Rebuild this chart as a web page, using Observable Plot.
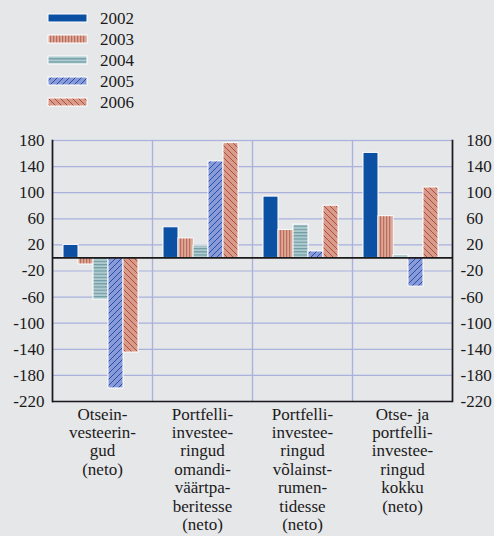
<!DOCTYPE html>
<html>
<head>
<meta charset="utf-8">
<style>
  html, body { margin: 0; padding: 0; background: #e6e7e9; }
  body, body * { font-family: "Liberation Serif", "Times New Roman", Times, serif; }
</style>
<script src="https://cdn.jsdelivr.net/npm/d3@7"></script>
<script src="https://cdn.jsdelivr.net/npm/@observablehq/plot@0.6"></script>
</head>
<body style="width:494px;height:536px;overflow:hidden;color:#1a1a1a">
<svg width="0" height="0" style="position:absolute">
  <defs>
    <pattern id="p2002" patternUnits="userSpaceOnUse" width="4" height="4">
      <rect width="4" height="4" fill="#0b50a2"></rect>
    </pattern>
    <pattern id="p2003" patternUnits="userSpaceOnUse" width="3" height="4">
      <rect width="3" height="4" fill="#dca898"></rect>
      <rect width="1.2" height="4" fill="#bd6b5c"></rect>
    </pattern>
    <pattern id="p2004" patternUnits="userSpaceOnUse" width="4" height="3.2">
      <rect width="4" height="3.2" fill="#b0cbcf"></rect>
      <rect width="4" height="1.2" fill="#6e9ca4"></rect>
    </pattern>
    <pattern id="p2005" patternUnits="userSpaceOnUse" width="6" height="6">
      <rect width="6" height="6" fill="#8a9ad6"></rect>
      <path d="M0,6L6,0M-1,1L1,-1M5,7L7,5" stroke="#1f50b2" stroke-width="1"></path>
    </pattern>
    <pattern id="p2006" patternUnits="userSpaceOnUse" width="6" height="6">
      <rect width="6" height="6" fill="#d89c8b"></rect>
      <path d="M0,0L6,6M-1,5L1,7M5,-1L7,1" stroke="#b34a42" stroke-width="1"></path>
    </pattern>
  </defs>
</svg>
<div id="legend" style="height:120px;box-sizing:border-box;padding-top:7.5px"></div>
<div id="chart"></div>
<script>
const years = ["2002", "2003", "2004", "2005", "2006"];
const categories = [
  "Otsein-\nvesteerin-\ngud\n(neto)",
  "Portfelli-\ninvestee-\nringud\nomandi-\nväärtpa-\nberitesse\n(neto)",
  "Portfelli-\ninvestee-\nringud\nvõlainst-\nrumen-\ntidesse\n(neto)",
  "Otse- ja\nportfelli-\ninvestee-\nringud\nkokku\n(neto)"
];
const v2002 = [20, 47, 94, 161];
const v2003 = [-10, 30, 43, 64];
const v2004 = [-64, 19, 51, 4];
const v2005 = [-200, 148, 10, -44];
const v2006 = [-145, 176, 80, 108];
const yTicks = [180, 140, 100, 60, 20, -20, -60, -100, -140, -180, -220];

const series = {"2002": v2002, "2003": v2003, "2004": v2004, "2005": v2005, "2006": v2006};
const data = [];
categories.forEach((c, i) => years.forEach(y => data.push({cat: c, year: y, value: series[y][i]})));

const FONT = "Liberation Serif, Times New Roman, Times, serif";

// Legend
const legend = document.getElementById("legend");
years.forEach(y => {
  const row = document.createElement("div");
  row.setAttribute("style", "height:21px;display:flex;align-items:center");
  row.innerHTML = `<svg viewBox="0 0 41 10" style="margin-left:47px;width:41px;height:10px;display:block"><rect x="1" y="1" width="39" height="8" fill="url(#p${y})" stroke="white" stroke-width="1"></rect></svg><span style="margin-left:12px;font-size:17px;line-height:21px;color:#1a1a1a">${y}</span>`;
  legend.appendChild(row);
});

const gridColor = "#a9b1dc";
const ink = "#1a1a1a";

const chart = Plot.plot({
  width: 494,
  height: 416,
  marginTop: 20,
  marginBottom: 135,
  marginLeft: 50,
  marginRight: 41,
  style: {background: "transparent", fontSize: "17px", fontFamily: FONT, color: ink, display: "block"},
  fx: {domain: categories, padding: 0, label: null},
  x: {domain: years, paddingInner: 0, paddingOuter: 0.77, align: 0.42, axis: null},
  y: {domain: [-220, 180], label: null},
  color: {domain: years, range: years.map(y => `url(#p${y})`)},
  marks: [
    Plot.frame({stroke: gridColor, strokeWidth: 1.2}),
    Plot.gridY(yTicks, {stroke: gridColor, strokeOpacity: 1, strokeWidth: 1.2}),
    Plot.barY(data, {fx: "cat", x: "year", y: "value", fill: "year", stroke: "white", strokeWidth: 1}),
    Plot.ruleY([0], {stroke: ink, strokeWidth: 1.7}),
    Plot.ruleY([-220], {stroke: ink, strokeWidth: 1.7}),
    Plot.frame({anchor: "left", facetAnchor: "left", stroke: ink, strokeWidth: 1.7}),
    Plot.frame({anchor: "right", facetAnchor: "right", stroke: ink, strokeWidth: 1.7}),
    Plot.axisY(yTicks, {anchor: "left", tickSize: 0, tickPadding: 8, tickFormat: d => String(d), fill: ink, fontSize: 17}),
    Plot.axisY(yTicks, {anchor: "right", tickSize: 0, tickPadding: 8, textAnchor: "start", tickFormat: d => (d < 0 ? "" : "\u2004") + String(d), fill: ink, fontSize: 17}),
    Plot.axisFx({anchor: "bottom", tickSize: 0, tickPadding: 5, lineHeight: 1.085, label: null, fill: ink, fontSize: 17})
  ]
});
document.getElementById("chart").appendChild(chart);
</script>
</body>
</html>
